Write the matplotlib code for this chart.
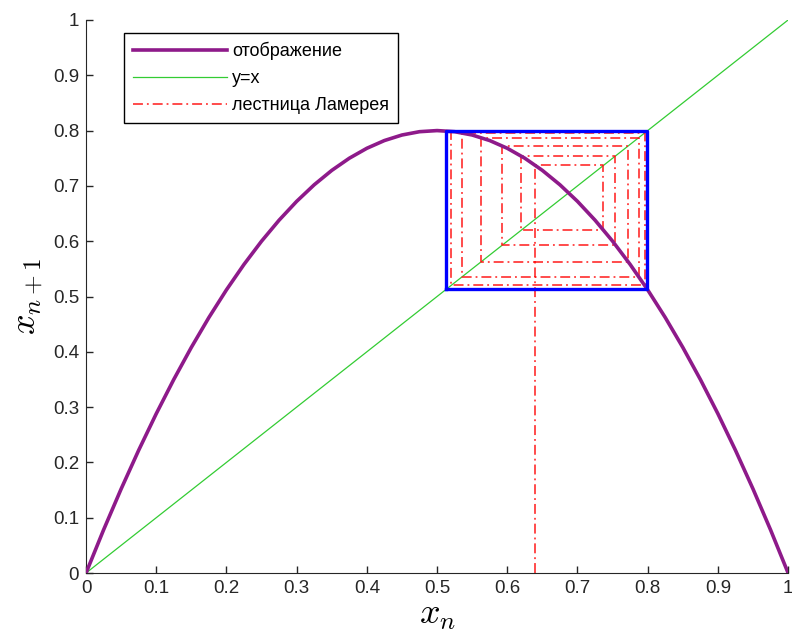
import matplotlib
matplotlib.use('Agg')
import matplotlib.pyplot as plt

# отображение x -> f(x) (шаг 0.025)
map_x = [0.0, 0.025, 0.05, 0.075, 0.1, 0.125, 0.15, 0.175, 0.2, 0.225, 0.25,
         0.275, 0.3, 0.325, 0.35, 0.375, 0.4, 0.425, 0.45, 0.475, 0.5,
         0.525, 0.55, 0.575, 0.6, 0.625, 0.65, 0.675, 0.7, 0.725, 0.75,
         0.775, 0.8, 0.825, 0.85, 0.875, 0.9, 0.925, 0.95, 0.975, 1.0]
map_y = [0.0, 0.078, 0.152, 0.222, 0.288, 0.350, 0.408, 0.462, 0.512, 0.558, 0.600,
         0.638, 0.672, 0.702, 0.728, 0.750, 0.768, 0.782, 0.792, 0.798, 0.800,
         0.798, 0.792, 0.782, 0.768, 0.750, 0.728, 0.702, 0.672, 0.638, 0.600,
         0.558, 0.512, 0.462, 0.408, 0.350, 0.288, 0.222, 0.152, 0.078, 0.0]

diag_x = [0.0, 1.0]

# итерации для лестницы Ламерея
iterates = [0.640, 0.737, 0.620, 0.754, 0.593, 0.772, 0.563, 0.787,
            0.536, 0.796, 0.520, 0.799, 0.514, 0.799, 0.513, 0.7995]

# 2-цикл (синий прямоугольник)
cycle = [0.513, 0.7995]

xticks = [0, 0.1, 0.2, 0.3, 0.4, 0.5, 0.6, 0.7, 0.8, 0.9, 1]
ticklabels = ['0', '0.1', '0.2', '0.3', '0.4', '0.5', '0.6', '0.7', '0.8', '0.9', '1']

plt.rcParams['font.family'] = ['Liberation Sans', 'DejaVu Sans']
plt.rcParams['mathtext.fontset'] = 'cm'

fig = plt.figure(figsize=(7.92, 6.36), dpi=100)
ax = fig.add_axes([0.1086, 0.099, 0.8865, 0.8696])

# лестница: (x0,0) -> (x0,x1) -> (x1,x1) -> (x1,x2) ...
stair_x = [iterates[0]]
stair_y = [0.0]
for i in range(len(iterates) - 1):
    stair_x += [iterates[i], iterates[i + 1]]
    stair_y += [iterates[i + 1], iterates[i + 1]]

ax.plot(map_x, map_y, color='#8e1a8a', lw=2.6, label='отображение', zorder=3,
        solid_joinstyle='round')
ax.plot(diag_x, diag_x, color='#33cc33', lw=0.9, label='y=x', zorder=2)
ax.plot(stair_x, stair_y, color='#ff1a1a', lw=1.1, ls=(0, (6.5, 2.6, 1.2, 2.6)),
        label='лестница Ламерея', zorder=2)

lo, hi = cycle
ax.plot([lo, hi, hi, lo, lo], [lo, lo, hi, hi, lo], color='#0000ff', lw=2.4, zorder=4)

ax.set_xlim(0, 1)
ax.set_ylim(0, 1)
ax.set_xticks(xticks)
ax.set_xticklabels(ticklabels)
ax.set_yticks(xticks)
ax.set_yticklabels(ticklabels)
ax.tick_params(direction='in', length=5, width=1, labelsize=13.5, colors='#262626', pad=5)
ax.spines['top'].set_visible(False)
ax.spines['right'].set_visible(False)
for s in ['left', 'bottom']:
    ax.spines[s].set_color('#262626')

ax.set_xlabel('$x_n$', fontsize=26, labelpad=0)
ax.set_ylabel('$x_{n+1}$', fontsize=26, labelpad=6)

leg = ax.legend(loc='upper left', bbox_to_anchor=(0.054, 0.977), borderaxespad=0,
                fontsize=13, handlelength=5.2, labelspacing=0.55, fancybox=False,
                framealpha=1, edgecolor='black', borderpad=0.5, handletextpad=0.3)
leg.get_frame().set_linewidth(1.0)

fig.savefig('out.png', dpi=100)
